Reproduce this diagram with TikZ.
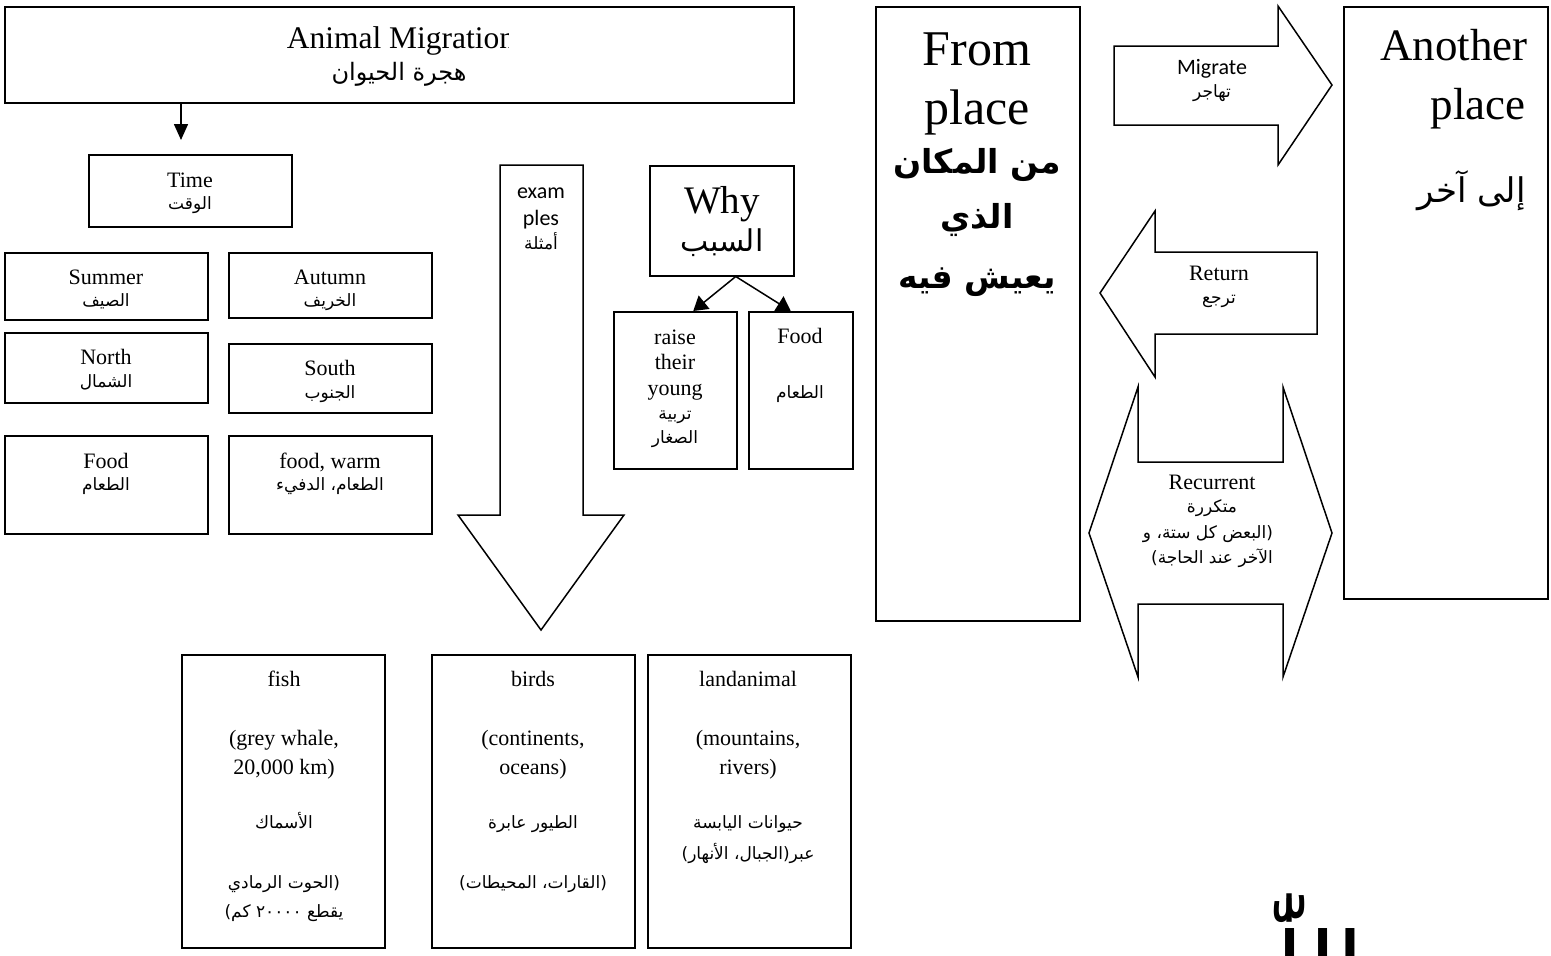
\documentclass[tikz,border=0pt]{standalone}
\usepackage{fontspec}
\setmainfont{Liberation Serif}
\newfontfamily\calib{Carlito}
\newfontfamily\arabicfont[Script=Arabic]{DejaVu Sans}
\TeXXeTstate=1
\usetikzlibrary{arrows.meta}
% right-to-left Arabic run
\newcommand\ar[1]{{\arabicfont\beginR #1\endR}}

\begin{document}
\begin{tikzpicture}[x=1pt,y=-1pt,line join=miter,
  frame/.style={draw,line width=1.5pt,inner sep=0pt,anchor=north west,fill=white},
  shapeline/.style={draw,line width=1.5pt,fill=white},
  conn/.style={line width=1.5pt},
  en/.style={inner sep=0pt,anchor=base,yshift=-7.5pt,font=\fontsize{22}{24}\selectfont},
  cal/.style={inner sep=0pt,anchor=base,yshift=-7.2pt,font=\calib\fontsize{22}{24}\selectfont},
  ar/.style={inner sep=0pt,anchor=base,yshift=-6pt,font=\arabicfont\fontsize{17}{20}\selectfont},
  big/.style={inner sep=0pt,anchor=base,yshift={-0.34pt*#1},font=\fontsize{#1}{#1}\selectfont},
  bigar/.style={inner sep=0pt,anchor=base,yshift={-0.36pt*#1},font=\arabicfont\fontsize{#1}{#1}\selectfont},
  boldar/.style={inner sep=0pt,anchor=base,yshift={-0.36pt*#1},font=\arabicfont\bfseries\fontsize{#1}{#1}\selectfont},
]
\useasboundingbox (0,0) rectangle (1551,956);
\clip (0,0) rectangle (1551,956);

% ---------- boxes ----------
\node[frame,minimum width=789pt,minimum height=96pt] (title) at (4,6) {};
\node[frame,minimum width=203pt,minimum height=72pt] (time) at (88,154) {};
\node[frame,minimum width=203pt,minimum height=67pt] (summer) at (4,252) {};
\node[frame,minimum width=203pt,minimum height=65pt] (autumn) at (228,252) {};
\node[frame,minimum width=203pt,minimum height=70pt] (north) at (4,332) {};
\node[frame,minimum width=203pt,minimum height=69pt] (south) at (228,343) {};
\node[frame,minimum width=203pt,minimum height=98pt] (foodA) at (4,435) {};
\node[frame,minimum width=203pt,minimum height=98pt] (foodB) at (228,435) {};
\node[frame,minimum width=144pt,minimum height=110pt] (why) at (649,165) {};
\node[frame,minimum width=123pt,minimum height=157pt] (raise) at (613,311) {};
\node[frame,minimum width=104pt,minimum height=157pt] (wfood) at (748,311) {};
\node[frame,minimum width=204pt,minimum height=614pt] (from) at (875,6) {};
\node[frame,minimum width=204pt,minimum height=592pt] (another) at (1343,6) {};
\node[frame,minimum width=203pt,minimum height=293pt] (fish) at (181,654) {};
\node[frame,minimum width=203pt,minimum height=293pt] (birds) at (431,654) {};
\node[frame,minimum width=203pt,minimum height=293pt] (land) at (647,654) {};

% ---------- block arrows ----------
\draw[shapeline] (500,165) -- (583,165) -- (583,515) -- (624,515) -- (541,630)
  -- (458,515) -- (500,515) -- cycle;
\draw[shapeline] (1114,46) -- (1278,46) -- (1278,6) -- (1332,85) -- (1278,165)
  -- (1278,125) -- (1114,125) -- cycle;
\draw[shapeline] (1317,252) -- (1155,252) -- (1155,211) -- (1100,293) -- (1155,377)
  -- (1155,334) -- (1317,334) -- cycle;
\draw[shapeline] (1138,387) -- (1138,462) -- (1283,462) -- (1283,387) -- (1332,533)
  -- (1283,677) -- (1283,604) -- (1138,604) -- (1138,677) -- (1089,533) -- cycle;

% ---------- connectors ----------
\coordinate (tdrop) at (181,102);
\draw[conn,-{Triangle[width=14pt,length=16pt]},shorten >=14pt] (tdrop) -- (tdrop |- time.north);
\draw[conn,-{Triangle[width=17pt,length=14pt]}] ([xshift=14pt]why.south) -- ([xshift=18pt]raise.north);
\draw[conn,-{Triangle[width=17pt,length=14pt]}] ([xshift=14pt]why.south) -- ([xshift=-10pt]wfood.north);

% ---------- texts ----------
% the heading's text frame ends just before the last letter
\begin{scope}
  \clip (4,6) rectangle (508,102);
  \node[big=31.5] (titleEn) at (401,38) {Animal Migration};
\end{scope}
\node[bigar=24] (titleAr) at (399,72) {\ar{هجرة الحيوان}};

\node[en] (timeEn) at (190,180) {Time};
\node[ar] (timeAr) at (190,203) {\ar{الوقت}};
\node[en] (summerEn) at (106,277) {Summer};
\node[ar] (summerAr) at (106,300) {\ar{الصيف}};
\node[en] (autumnEn) at (330,277) {Autumn};
\node[ar] (autumnAr) at (330,300) {\ar{الخريف}};
\node[en] (northEn) at (106,357) {North};
\node[ar] (northAr) at (106,381) {\ar{الشمال}};
\node[en] (southEn) at (330,368) {South};
\node[ar] (southAr) at (330,392) {\ar{الجنوب}};
\node[en] (foodAEn) at (106,461) {Food};
\node[ar] (foodAAr) at (106,484) {\ar{الطعام}};
\node[en] (foodBEn) at (330,461) {food, warm};
\node[ar] (foodBAr) at (330,484) {\ar{الطعام، الدفيء}};

\node[cal] (exam1) at (541,191) {exam};
\node[cal] (exam2) at (541,218) {ples};
\node[ar] (exam3) at (541,243) {\ar{أمثلة}};

\node[big=39] (whyEn) at (722,200) {Why};
\node[bigar=30] (whyAr) at (722,241) {\ar{السبب}};
\node[en] (raise1) at (675,337) {raise};
\node[en] (raise2) at (675,362) {their};
\node[en] (raise3) at (675,388) {young};
\node[ar] (raise4) at (675,413) {\ar{تربية}};
\node[ar] (raise5) at (675,437) {\ar{الصغار}};
\node[en] (wfoodEn) at (800,336) {Food};
\node[ar] (wfoodAr) at (800,392) {\ar{الطعام}};

\node[big=50] (from1) at (977,48) {From};
\node[big=50] (from2) at (977,107) {place};
\node[boldar=33] (from3) at (977,162) {\ar{من المكان}};
\node[boldar=33] (from4) at (977,217) {\ar{الذي}};
\node[boldar=33] (from5) at (977,277) {\ar{يعيش فيه}};

\node[cal] (mig1) at (1212,67) {Migrate};
\node[ar] (mig2) at (1212,91) {\ar{تهاجر}};
\node[en] (ret1) at (1219,273) {Return};
\node[ar] (ret2) at (1219,297) {\ar{ترجع}};
\node[en] (rec1) at (1212,482) {Recurrent};
\node[ar] (rec2) at (1212,506) {\ar{متكررة}};
\node[ar] (rec3) at (1208,532) {\ar{(البعض كل ستة، و}};
\node[ar] (rec4) at (1212,557) {\ar{الآخر عند الحاجة)}};

\node[big=45,anchor=base east] (ano1) at (1528,45) {Another};
\node[big=45,anchor=base east] (ano2) at (1526,104) {place};
\node[bigar=34,anchor=base east] (ano3) at (1526,190) {\ar{إلى آخر}};

\node[en] (fish1) at (284,679) {fish};
\node[en] (fish2) at (284,738) {(grey whale,};
\node[en] (fish3) at (284,767) {20,000 km)};
\node[ar] (fish4) at (284,822) {\ar{الأسماك}};
\node[ar] (fish5) at (284,882) {\ar{(الحوت الرمادي}};
\node[ar] (fish6) at (284,911) {\ar{يقطع ٢٠٠٠٠ كم)}};

\node[en] (birds1) at (533,679) {birds};
\node[en] (birds2) at (533,738) {(continents,};
\node[en] (birds3) at (533,767) {oceans)};
\node[ar] (birds4) at (533,822) {\ar{الطيور عابرة}};
\node[ar] (birds5) at (533,882) {\ar{(القارات، المحيطات)}};

\node[en] (land1) at (748,679) {landanimal};
\node[en] (land2) at (748,738) {(mountains,};
\node[en] (land3) at (748,767) {rivers)};
\node[ar] (land4) at (748,822) {\ar{حيوانات اليابسة}};
\node[ar] (land5) at (748,853) {\ar{عبر(الجبال، الأنهار)}};

% ---------- calligraphic word at the lower edge ----------
\node[inner sep=0pt,anchor=north,font=\arabicfont\fontsize{100}{100}\selectfont] (seal) at (1292,894) {\ar{اللّٰه}};
\end{tikzpicture}
\end{document}
